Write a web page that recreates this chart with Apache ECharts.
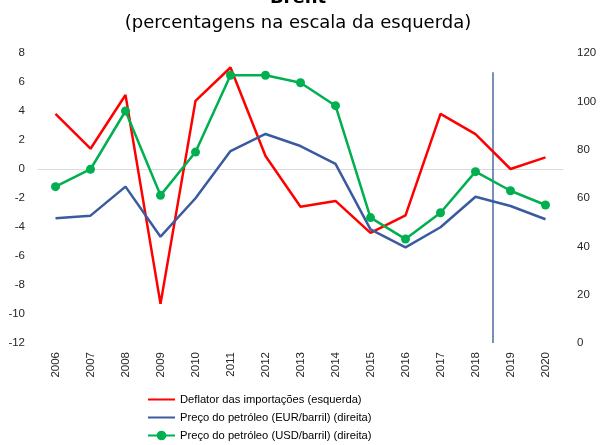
<!DOCTYPE html>
<html>
<head>
<meta charset="utf-8">
<script src="https://cdn.jsdelivr.net/npm/echarts@6/dist/echarts.min.js"></script>
<style>
  html, body { margin: 0; padding: 0; background: #fff; }
  #main { width: 601px; height: 445px; }
</style>
</head>
<body>
<div id="main"></div>
<script>
const years = ["2006", "2007", "2008", "2009", "2010", "2011", "2012", "2013", "2014", "2015", "2016", "2017", "2018", "2019", "2020"];
const deflator = [3.8, 1.4, 5.1, -9.3, 4.7, 7.0, 0.9, -2.6, -2.2, -4.4, -3.2, 3.8, 2.4, 0.0, 0.8];
const brentEur = [51.6, 52.7, 64.7, 44.0, 59.9, 79.4, 86.5, 81.5, 74.1, 47.0, 39.6, 47.9, 60.5, 56.7, 51.2];
const brentUsd = [64.7, 71.9, 96.0, 61.1, 79.0, 110.8, 110.8, 107.7, 98.2, 51.9, 43.0, 53.9, 70.9, 63.0, 57.1];
// projection divider between 2018 and 2019 (category index 12.5), up to 112 on right scale
const divider = [[12.5, 0], [12.5, 112]];

const names = [
  "Deflator das importações (esquerda)",
  "Preço do petróleo (EUR/barril) (direita)",
  "Preço do petróleo (USD/barril) (direita)"
];

const chart = echarts.init(document.getElementById("main"), null, { renderer: "canvas" });

const labelFont = { fontFamily: "Liberation Sans", fontSize: 11.5, color: "#262626" };

const option = {
  animation: false,
  title: [
    {
      text: "Brent",
      left: 293,
      textAlign: "center",
      top: -16,
      textStyle: { fontFamily: "DejaVu Sans", fontSize: 18, fontWeight: "bold", color: "#000" }
    },
    {
      text: "(percentagens na escala da esquerda)",
      left: 293,
      textAlign: "center",
      top: 9,
      textStyle: { fontFamily: "DejaVu Sans", fontSize: 18, fontWeight: "normal", color: "#000" }
    }
  ],
  legend: {
    orient: "vertical",
    left: 147,
    top: 394,
    padding: 0,
    itemGap: 7,
    itemWidth: 27,
    itemHeight: 12,
    data: [
      { name: names[0], itemStyle: { opacity: 0 } },
      { name: names[1], itemStyle: { opacity: 0 } },
      { name: names[2] }
    ],
    textStyle: { fontFamily: "Liberation Sans", fontSize: 11.2, color: "#000" }
  },
  grid: { left: 38, right: 38, top: 53, bottom: 102, outerBoundsMode: "none" },
  xAxis: [
    {
      type: "category",
      data: years,
      boundaryGap: true,
      axisLine: { onZero: true, lineStyle: { color: "#d9d9d9", width: 1 } },
      axisTick: { show: false },
      axisLabel: { ...labelFont, rotate: 90, margin: 9, interval: 0 }
    },
    {
      type: "value",
      min: -0.5,
      max: 14.5,
      show: false
    }
  ],
  yAxis: [
    {
      type: "value",
      min: -12,
      max: 8,
      interval: 2,
      axisLine: { show: false },
      axisTick: { show: false },
      splitLine: { show: false },
      axisLabel: { ...labelFont, margin: 13 }
    },
    {
      type: "value",
      min: 0,
      max: 120,
      interval: 20,
      axisLine: { show: false },
      axisTick: { show: false },
      splitLine: { show: false },
      axisLabel: { ...labelFont, margin: 14 }
    }
  ],
  series: [
    {
      name: names[0],
      type: "line",
      data: deflator,
      yAxisIndex: 0,
      symbol: "none",
      lineStyle: { color: "#ff0000", width: 2.5 },
      itemStyle: { color: "#ff0000" }
    },
    {
      name: names[1],
      type: "line",
      data: brentEur,
      yAxisIndex: 1,
      symbol: "none",
      lineStyle: { color: "#3a5ba0", width: 2.5 },
      itemStyle: { color: "#3a5ba0" }
    },
    {
      name: names[2],
      type: "line",
      data: brentUsd,
      yAxisIndex: 1,
      symbol: "circle",
      symbolSize: 9,
      lineStyle: { color: "#00b050", width: 2.5 },
      itemStyle: { color: "#00b050" }
    },
    {
      name: "divider",
      type: "line",
      xAxisIndex: 1,
      yAxisIndex: 1,
      data: divider,
      symbol: "none",
      silent: true,
      lineStyle: { color: "#2f5597", width: 1.3 },
      z: 1
    }
  ]
};

chart.setOption(option);
</script>
</body>
</html>
